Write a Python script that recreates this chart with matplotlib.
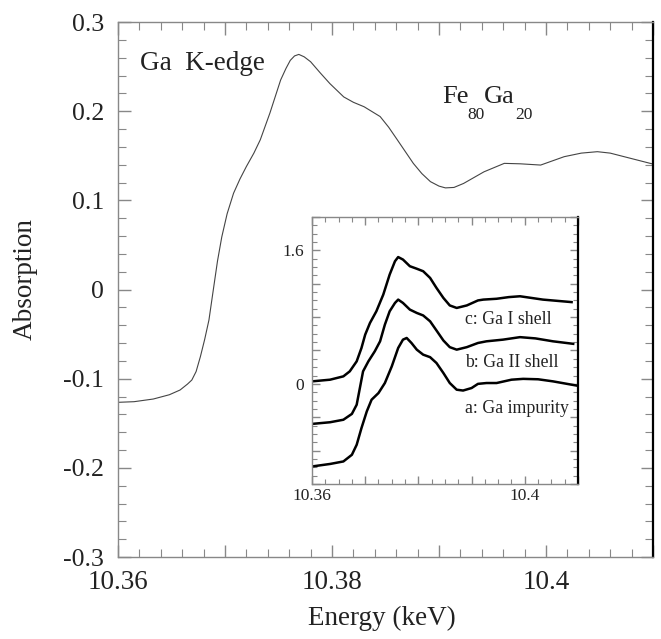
import matplotlib
matplotlib.use('Agg')
import matplotlib.pyplot as plt
from matplotlib.ticker import MultipleLocator, FuncFormatter

plt.rcParams['font.family'] = ['Liberation Serif', 'DejaVu Serif']

# main spectrum (Fe80Ga20, Ga K-edge)
energy = [10.3600, 10.3615, 10.3633, 10.3648, 10.3658, 10.3665, 10.3669, 10.3673,
          10.3677, 10.3681, 10.3685, 10.3689, 10.3693, 10.3697, 10.3702, 10.3708,
          10.3714, 10.3720, 10.3727, 10.3733, 10.3742, 10.3752, 10.3757, 10.3761,
          10.3765, 10.3769, 10.3774, 10.3780, 10.3789, 10.3798, 10.3811, 10.3820,
          10.3830, 10.3845, 10.3853, 10.3861, 10.3876, 10.3884, 10.3892, 10.3900,
          10.3906, 10.3914, 10.3923, 10.3942, 10.3961, 10.3976, 10.3995, 10.4017,
          10.4033, 10.4048, 10.4060, 10.4073, 10.4101]
absorption = [-0.1265, -0.1258, -0.1228, -0.118, -0.1127, -0.106, -0.1015, -0.092,
              -0.0753, -0.056, -0.0342, -0.001, 0.032, 0.059, 0.085, 0.108,
              0.124, 0.138, 0.153, 0.168, 0.198, 0.235, 0.248, 0.257,
              0.262, 0.2637, 0.261, 0.2555, 0.243, 0.231, 0.216, 0.210,
              0.205, 0.194, 0.182, 0.168, 0.1415, 0.130, 0.121, 0.116,
              0.114, 0.1145, 0.119, 0.132, 0.1415, 0.141, 0.1396, 0.149,
              0.153, 0.1546, 0.153, 0.149, 0.1404]

# inset: calculated spectra (vertically offset)
c_x = [10.3600, 10.3634, 10.3659, 10.3671, 10.3684, 10.3693, 10.3700, 10.3709,
       10.3721, 10.3734, 10.3746, 10.3756, 10.3762, 10.3771, 10.3784, 10.3797,
       10.3809, 10.3822, 10.3834, 10.3847, 10.3859, 10.3872, 10.3891, 10.3912,
       10.3922, 10.3947, 10.3970, 10.3991, 10.4034, 10.4088]
c_y = [0.03, 0.05, 0.09, 0.15, 0.27, 0.43, 0.59, 0.73,
       0.87, 1.07, 1.31, 1.47, 1.52, 1.49, 1.41, 1.38,
       1.35, 1.27, 1.15, 1.03, 0.94, 0.91, 0.94, 1.00,
       1.01, 1.02, 1.04, 1.05, 1.01, 0.98]

b_x = [10.3600, 10.3634, 10.3659, 10.3675, 10.3684, 10.3690, 10.3696, 10.3706,
       10.3718, 10.3728, 10.3737, 10.3746, 10.3756, 10.3762, 10.3771, 10.3784,
       10.3797, 10.3809, 10.3822, 10.3834, 10.3847, 10.3859, 10.3872, 10.3891,
       10.3912, 10.3928, 10.3959, 10.3991, 10.4020, 10.4053, 10.4091]
b_y = [-0.48, -0.46, -0.43, -0.36, -0.25, -0.05, 0.15, 0.27,
       0.39, 0.51, 0.71, 0.87, 0.97, 1.01, 0.97, 0.89,
       0.85, 0.82, 0.75, 0.64, 0.52, 0.44, 0.41, 0.44,
       0.49, 0.51, 0.53, 0.56, 0.545, 0.51, 0.48]

a_x = [10.3600, 10.3634, 10.3659, 10.3675, 10.3684, 10.3693, 10.3703, 10.3712,
       10.3725, 10.3737, 10.3750, 10.3762, 10.3771, 10.3778, 10.3787, 10.3797,
       10.3809, 10.3822, 10.3834, 10.3847, 10.3859, 10.3872, 10.3884, 10.3900,
       10.3912, 10.3928, 10.3947, 10.3975, 10.3997, 10.4025, 10.4053, 10.4097]
a_y = [-0.99, -0.96, -0.93, -0.85, -0.73, -0.53, -0.33, -0.19,
       -0.11, 0.01, 0.21, 0.43, 0.53, 0.55, 0.49, 0.41,
       0.35, 0.32, 0.25, 0.13, 0.01, -0.07, -0.08, -0.05,
       0.0, 0.01, 0.01, 0.05, 0.06, 0.055, 0.03, -0.02]

inset_labels = ['c: Ga I shell', 'b: Ga II shell', 'a: Ga impurity']
label_y = [0.775, 0.26, -0.29]


def fmt(v, pos):
    return '%g' % round(v, 4)


def style_axes(ax, major_len, minor_len):
    for side in ['left', 'top', 'bottom']:
        ax.spines[side].set_color('#888888')
        ax.spines[side].set_linewidth(1.0)
    ax.spines['right'].set_color('black')
    ax.spines['right'].set_linewidth(1.6)
    ax.tick_params(which='both', direction='in', top=True, right=True,
                   colors='#888888', labelcolor='#222222')
    ax.tick_params(which='major', length=major_len, width=1)
    ax.tick_params(which='minor', length=minor_len, width=0.8)


fig = plt.figure(figsize=(6.61, 6.39), dpi=100)

ax = fig.add_axes([0.1785, 0.1283, 0.8094, 0.8372])
ax.plot(energy, absorption, color='#444444', lw=0.8)
ax.set_xlim(10.36, 10.41)
ax.set_ylim(-0.3, 0.3)
ax.xaxis.set_major_locator(MultipleLocator(0.01))
ax.xaxis.set_minor_locator(MultipleLocator(0.002))
ax.xaxis.set_major_formatter(FuncFormatter(
    lambda v, p: fmt(v, p) if abs(round(v * 100) % 2) < 0.5 else ''))
ax.yaxis.set_major_locator(MultipleLocator(0.1))
ax.yaxis.set_minor_locator(MultipleLocator(0.02))
ax.yaxis.set_major_formatter(FuncFormatter(fmt))
style_axes(ax, 9, 5.5)
ax.tick_params(axis='x', labelsize=19.5, pad=9)
ax.tick_params(axis='y', labelsize=18.5, pad=10)
fig.text(382 / 661, 1 - 618 / 639, 'Energy (keV)', fontsize=19.5,
         color='#222222', ha='center', va='center')
fig.text(25 / 661, 1 - 279 / 639, 'Absorption', fontsize=19.5,
         color='#222222', ha='center', va='center', rotation=90)

ax.text(10.36206, 0.254, 'Ga  K-edge', fontsize=19.5, color='#222222', va='center')
ax.text(10.3903, 0.2095, 'Fe', fontsize=19, color='#222222', va='baseline')
ax.text(10.39266, 0.1912, '80', fontsize=12.5, color='#222222', va='baseline')
ax.text(10.39416, 0.2095, 'Ga', fontsize=19, color='#222222', va='baseline')
ax.text(10.39716, 0.1912, '20', fontsize=12.5, color='#222222', va='baseline')

ins = fig.add_axes([0.472, 0.2426, 0.4024, 0.4178])
for xs, ys in [(c_x, c_y), (b_x, b_y), (a_x, a_y)]:
    ins.plot(xs, ys, color='black', lw=1.8, solid_joinstyle='round')
ins.set_xlim(10.36, 10.41)
ins.set_ylim(-1.2, 2.0)
ins.xaxis.set_major_locator(MultipleLocator(0.01))
ins.xaxis.set_minor_locator(MultipleLocator(0.0025))
ins.xaxis.set_major_formatter(FuncFormatter(
    lambda v, p: fmt(v, p) if abs(round(v * 100) - 1036) % 4 == 0 else ''))
ins.yaxis.set_major_locator(MultipleLocator(0.4))
ins.yaxis.set_minor_locator(MultipleLocator(0.1))
ins.yaxis.set_major_formatter(FuncFormatter(
    lambda v, p: fmt(v, p) if abs(round(v * 10)) % 16 == 0 else ''))
style_axes(ins, 6, 3.5)
ins.tick_params(axis='both', labelsize=12.5)
ins.tick_params(axis='y', pad=6)
ins.tick_params(axis='x', pad=3)
for lab, ly in zip(inset_labels, label_y):
    ins.text(10.3887, ly, lab, fontsize=12.8, color='#222222', ha='left', va='center')

fig.savefig('out.png', dpi=100)
